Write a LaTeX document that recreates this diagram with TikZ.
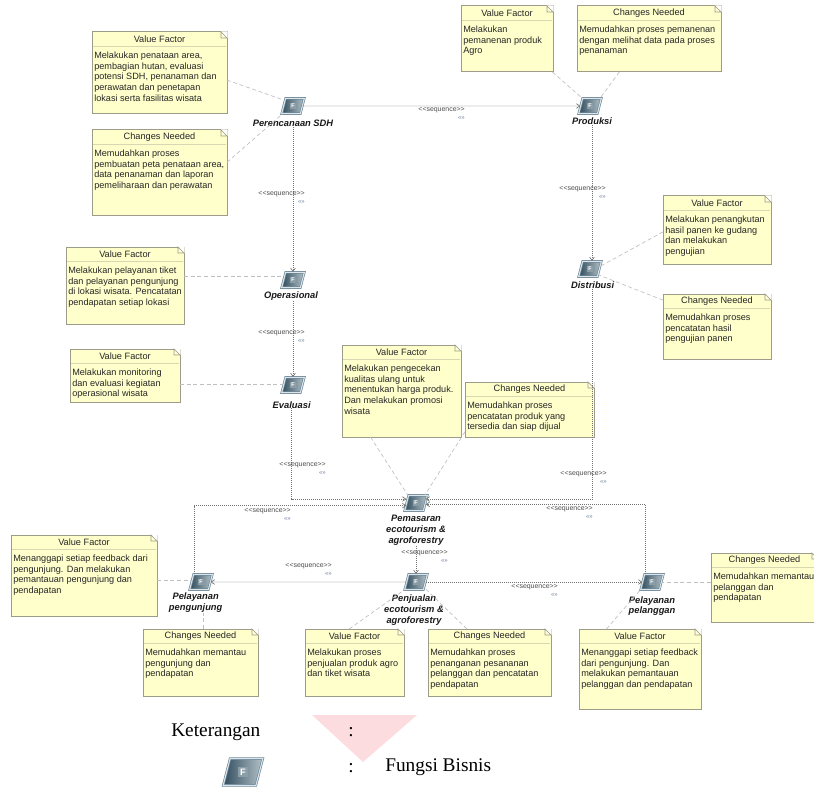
\documentclass[tikz,border=0pt]{standalone}
\usepackage{fontspec}
\setmainfont{Liberation Serif}
\setsansfont{Liberation Sans}
\usetikzlibrary{positioning,calc,arrows.meta,shapes.geometric}

\definecolor{noteyellow}{HTML}{FFFFCC}
\definecolor{noteline}{HTML}{9C9C88}
\definecolor{seqblue}{HTML}{6A7A9A}
\definecolor{iconframe}{HTML}{6C8797}
\definecolor{iconband}{HTML}{DCE6EA}
\definecolor{icondark}{HTML}{314C5D}
\definecolor{iconlight}{HTML}{B4C2C8}
\definecolor{iconface}{HTML}{8B9DA7}
\definecolor{legendpink}{HTML}{FCDCDF}

\tikzset{
 notebox/.style={draw=noteline,fill=noteyellow,line width=0.75pt,inner sep=0pt,outer sep=0pt,anchor=north west},
 notehead/.style={font=\sffamily\fontsize{6.9}{8}\selectfont,text=black!85,inner sep=0pt},
 notetext/.style={font=\sffamily\fontsize{6.85}{8}\selectfont,text=black!85,inner sep=0pt,anchor=north west,align=left},
 funcicon/.style={trapezium,trapezium left angle=76,trapezium right angle=104,trapezium stretches=true,
  minimum width=17pt,minimum height=11.5pt,inner sep=0pt,draw=iconframe,line width=0.5pt,
  double=iconband,double distance=0.8pt,left color=icondark,right color=iconlight,
  text=white,font=\sffamily\bfseries\fontsize{4}{4}\selectfont},
 funclabel/.style={font=\sffamily\bfseries\itshape\fontsize{7}{8.2}\selectfont,inner sep=0pt,align=center,text=black!90},
 seqlabel/.style={font=\sffamily\fontsize{5.2}{6}\selectfont,inner sep=0pt,align=right,anchor=north east,text=black!70},
 seqflow/.style={draw=black!55,line width=0.5pt,densely dotted,-{Straight Barb[length=2.5pt,width=3.5pt]}},
 notelink/.style={draw=black!25,line width=0.5pt,densely dashed},
 legendtext/.style={font=\fontsize{14.5}{16}\selectfont,inner sep=0pt}
}

\newcommand{\notebox}[7]{%
 \node[notebox,minimum width={(#4-#2)*0.75pt},minimum height={(#5-#3)*0.75pt}] (#1) at (#2,#3) {};
 \fill[white] ($(#1.north east)+(-6,-0.6)$) -- ($(#1.north east)+(0.6,-0.6)$) -- ($(#1.north east)+(0.6,6)$) -- cycle;
 \draw[draw=noteline,fill=noteyellow!70!white,line width=0.5pt] ($(#1.north east)+(-6,0)$) -- ($(#1.north east)+(0,6)$) -- ($(#1.north east)+(-6,6)$) -- cycle;
 \draw[noteline!40!noteyellow,line width=0.5pt] ($(#1.north west)+(1,14)$) -- ($(#1.north east)+(-1,14)$);
 \node[notehead] (#1Head) at ($(#1.north)+(0,7)$) {#6};
 \node[notetext] (#1Text) at ($(#1.north west)+(2,19.5)$) {#7};
}
\newcommand{\seqmark}{{\color{seqblue}\fontsize{4.5}{4.5}\selectfont «»}}
\newcommand{\funcface}{{\setlength{\fboxsep}{0.9pt}\colorbox{iconface}{F}}}

\begin{document}
\begin{tikzpicture}[x=0.75pt,y=-0.75pt]
 \useasboundingbox (0,0) rectangle (814,788);
 % notes
 \notebox{vfSDH}{92}{32}{227}{114}{Value Factor}{Melakukan penataan area,\\pembagian hutan, evaluasi\\potensi SDH, penanaman dan\\perawatan dan penetapan\\lokasi serta fasilitas wisata}
 \notebox{cnSDH}{92}{130}{227}{216}{Changes Needed}{Memudahkan proses\\pembuatan peta penataan area,\\data penanaman dan laporan\\pemeliharaan dan perawatan}
 \notebox{vfOperasional}{66}{247}{184}{324}{Value Factor}{Melakukan pelayanan tiket\\dan pelayanan pengunjung\\di lokasi wisata. Pencatatan\\pendapatan setiap lokasi}
 \notebox{vfEvaluasi}{70}{349}{180}{402}{Value Factor}{Melakukan monitoring\\dan evaluasi kegiatan\\operasional wisata}
 \notebox{vfPemasaran}{342}{345}{461}{437}{Value Factor}{Melakukan pengecekan\\kualitas ulang untuk\\menentukan harga produk.\\Dan melakukan promosi\\wisata}
 \notebox{cnPemasaran}{465}{382}{594}{437}{Changes Needed}{Memudahkan proses\\pencatatan produk yang\\tersedia dan siap dijual}
 \notebox{vfProduksi}{461}{6}{553}{72}{Value Factor}{Melakukan\\pemanenan produk\\Agro}
 \notebox{cnProduksi}{577}{6}{721}{72}{Changes Needed}{Memudahkan proses pemanenan\\dengan melihat data pada proses\\penanaman}
 \notebox{vfDistribusi}{663}{196}{771}{264}{Value Factor}{Melakukan penangkutan\\hasil panen ke gudang\\dan melakukan\\pengujian}
 \notebox{cnDistribusi}{663}{294}{771}{359}{Changes Needed}{Memudahkan proses\\pencatatan hasil\\pengujian panen}
 \notebox{vfPengunjung}{11}{535}{157}{616}{Value Factor}{Menanggapi setiap feedback dari\\pengunjung. Dan melakukan\\pemantauan pengunjung dan\\pendapatan}
 \notebox{cnPengunjung}{143}{629}{258}{696}{Changes Needed}{Memudahkan memantau\\pengunjung dan\\pendapatan}
 \notebox{vfPenjualan}{305}{629}{404}{696}{Value Factor}{Melakukan proses\\penjualan produk agro\\dan tiket wisata}
 \notebox{cnPenjualan}{428}{629}{551}{696}{Changes Needed}{Memudahkan proses\\penanganan pesananan\\pelanggan dan pencatatan\\pendapatan}
 \notebox{vfPelanggan}{579}{629}{701}{709}{Value Factor}{Menanggapi setiap feedback\\dari pengunjung. Dan\\melakukan pemantauan\\pelanggan dan pendapatan}
 \notebox{cnPelanggan}{711}{553}{818}{622}{Changes Needed}{Memudahkan memantau\\pelanggan dan\\pendapatan}

 % business functions
 \node[funcicon] (iconSDH) at (293,106) {\funcface};
 \node[funcicon] (iconProduksi) at (590,106) {\funcface};
 \node[funcicon] (iconOperasional) at (293,280) {\funcface};
 \node[funcicon] (iconDistribusi) at (590,269) {\funcface};
 \node[funcicon] (iconEvaluasi) at (293,385) {\funcface};
 \node[funcicon] (iconPemasaran) at (416,503) {\funcface};
 \node[funcicon] (iconPenjualan) at (416,582) {\funcface};
 \node[funcicon] (iconPengunjung) at (201,582) {\funcface};
 \node[funcicon] (iconPelanggan) at (652,582) {\funcface};

 \node[funclabel,below=4.5pt of iconSDH] (labelSDH) {Perencanaan SDH};
 \node[funclabel,below=2.5pt of iconProduksi,xshift=1.5pt] (labelProduksi) {Produksi};
 \node[funclabel,below=2.5pt of iconOperasional,xshift=-1.5pt] (labelOperasional) {Operasional};
 \node[funclabel,below=3.5pt of iconDistribusi,xshift=2pt] (labelDistribusi) {Distribusi};
 \node[funclabel,below=6pt of iconEvaluasi,xshift=-1pt] (labelEvaluasi) {Evaluasi};
 \node[funclabel,below=3pt of iconPemasaran] (labelPemasaran) {Pemasaran\\ecotourism \&\\agroforestry};
 \node[funclabel,below=3.5pt of iconPenjualan,xshift=-1.5pt] (labelPenjualan) {Penjualan\\ecotourism \&\\agroforestry};
 \node[funclabel,below=2pt of iconPengunjung,xshift=-4pt] (labelPengunjung) {Pelayanan\\pengunjung};
 \node[funclabel,below=4.5pt of iconPelanggan] (labelPelanggan) {Pelayanan\\pelanggan};

 % sequence flows
 \draw[seqflow] (iconSDH) -- (iconProduksi);
 \draw[seqflow] (labelSDH) -- (labelSDH |- iconOperasional.north);
 \draw[seqflow] (labelOperasional.south -| iconEvaluasi.north) -- (iconEvaluasi.north);
 \draw[seqflow] (labelProduksi) -- (labelProduksi |- iconDistribusi.north);
 \draw[seqflow] (labelDistribusi) |- ([yshift=3pt]iconPemasaran.east);
 \draw[seqflow] (labelEvaluasi) |- ([yshift=3pt]iconPemasaran.west);
 \draw[seqflow] ([xshift=-5pt]iconPengunjung.north) |- ([yshift=-2pt]iconPemasaran.west);
 \draw[seqflow] ([xshift=-5pt]iconPelanggan.north) |- ([yshift=-1pt]iconPemasaran.east);
 \draw[seqflow] (labelPemasaran.south) -- (labelPemasaran.south |- iconPenjualan.north);
 \draw[seqflow] (iconPenjualan) -- (iconPengunjung);
 \draw[seqflow] (iconPenjualan) -- (iconPelanggan);

 \node[seqlabel] (seqSDHProduksi) at (465,107) {<{}<sequence>{}>\\\seqmark};
 \node[seqlabel] (seqSDHOperasional) at (305,191) {<{}<sequence>{}>\\\seqmark};
 \node[seqlabel] (seqOperasionalEvaluasi) at (305,330) {<{}<sequence>{}>\\\seqmark};
 \node[seqlabel] (seqProduksiDistribusi) at (606,186) {<{}<sequence>{}>\\\seqmark};
 \node[seqlabel] (seqDistribusiPemasaran) at (607,471) {<{}<sequence>{}>\\\seqmark};
 \node[seqlabel] (seqEvaluasiPemasaran) at (326,462) {<{}<sequence>{}>\\\seqmark};
 \node[seqlabel] (seqPengunjungPemasaran) at (291,508) {<{}<sequence>{}>\\\seqmark};
 \node[seqlabel] (seqPelangganPemasaran) at (593,506) {<{}<sequence>{}>\\\seqmark};
 \node[seqlabel] (seqPemasaranPenjualan) at (448,550) {<{}<sequence>{}>\\\seqmark};
 \node[seqlabel] (seqPenjualanPengunjung) at (332,563) {<{}<sequence>{}>\\\seqmark};
 \node[seqlabel] (seqPenjualanPelanggan) at (558,584) {<{}<sequence>{}>\\\seqmark};

 % note links
 \draw[notelink] (vfSDH.-6) -- (iconSDH.146);
 \draw[notelink] (cnSDH.9) -- (iconSDH.217);
 \draw[notelink] (vfOperasional.9) -- (vfOperasional.9 -| iconOperasional.west);
 \draw[notelink] (vfEvaluasi.-9) -- (vfEvaluasi.-9 -| iconEvaluasi.west);
 \draw[notelink] (vfPemasaran.-124) -- (iconPemasaran.137);
 \draw[notelink] (cnPemasaran.-161) -- (iconPemasaran.42);
 \draw[notelink] (vfProduksi.-36) -- (iconProduksi.135);
 \draw[notelink] (cnProduksi.-132) -- (iconProduksi.38);
 \draw[notelink] (vfDistribusi.-178) -- (iconDistribusi.15);
 \draw[notelink] (cnDistribusi.154) -- (iconDistribusi.-35);
 \draw[notelink] (vfPengunjung.-4) -- (vfPengunjung.-4 -| iconPengunjung.west);
 \draw[notelink] (cnPengunjung.86) -- (cnPengunjung.86 |- labelPengunjung.south);
 \draw[notelink] (vfPenjualan.99) -- (iconPenjualan.-146);
 \draw[notelink] (cnPenjualan.124) -- (iconPenjualan.-34);
 \draw[notelink] (vfPelanggan.130) -- (iconPelanggan.-146);
 \draw[notelink] (cnPelanggan.175) -- (cnPelanggan.175 -| iconPelanggan.east);

 % legend
 \fill[legendpink] (312,715) -- (417,715) -- (363,762) -- cycle;
 \node[legendtext,anchor=west] (legendTitle) at (171,732) {Keterangan};
 \node[legendtext] (legendColonA) at (351,732) {:};
 \node[funcicon,scale=1.75,transform shape] (iconLegend) at (243,772) {\funcface};
 \node[legendtext] (legendColonB) at (351,768) {:};
 \node[legendtext,anchor=west] (legendFungsi) at (385,767) {Fungsi Bisnis};
\end{tikzpicture}
\end{document}
